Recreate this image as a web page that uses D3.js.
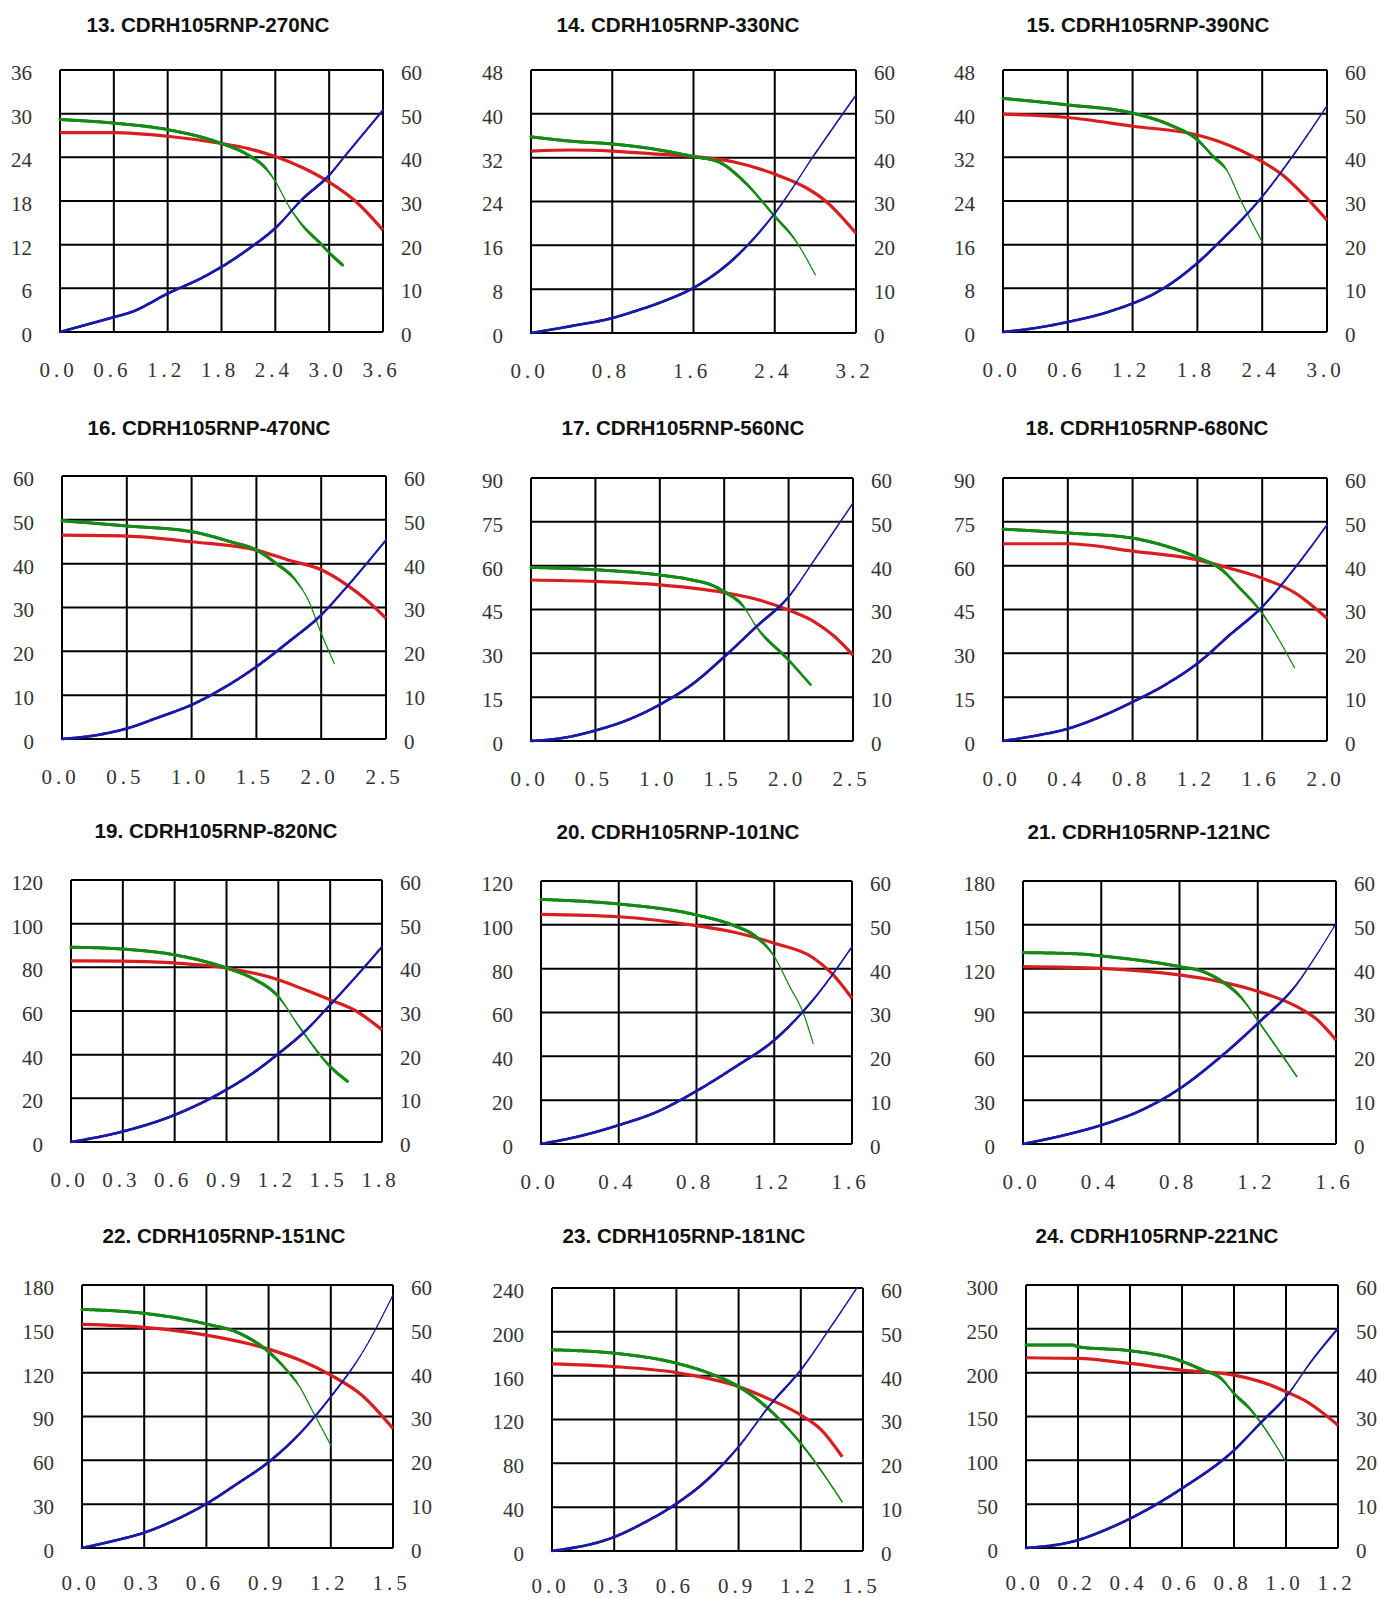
<!DOCTYPE html>
<html>
<head>
<meta charset="utf-8">
<script src="https://cdn.jsdelivr.net/npm/d3@7"></script>
<style>
  body { margin: 0; background: #fff; }
  .title { font-family: "Liberation Sans", Arial, sans-serif; font-weight: bold; font-size: 20px; fill: #111; }
  .tick text { font-family: "Liberation Serif", "Times New Roman", Tinos, "DejaVu Serif", serif; font-size: 21px; fill: #333; }
  .xaxis .tick text { letter-spacing: 4px; }
</style>
</head>
<body>
<svg id="chart" width="1381" height="1598"></svg>
<script>
// panel titles
const titles = [
  "13. CDRH105RNP-270NC", "14. CDRH105RNP-330NC", "15. CDRH105RNP-390NC",
  "16. CDRH105RNP-470NC", "17. CDRH105RNP-560NC", "18. CDRH105RNP-680NC",
  "19. CDRH105RNP-820NC", "20. CDRH105RNP-101NC", "21. CDRH105RNP-121NC",
  "22. CDRH105RNP-151NC", "23. CDRH105RNP-181NC", "24. CDRH105RNP-221NC"
];

// x axis (current) range and step of each panel
const xMax  = [3.6, 3.2, 3.0, 2.5, 2.5, 2.0, 1.8, 1.6, 1.6, 1.5, 1.5, 1.2];
const xStep = [0.6, 0.8, 0.6, 0.5, 0.5, 0.4, 0.3, 0.4, 0.4, 0.3, 0.3, 0.2];

// left axis (inductance), always 6 intervals
const leftMax = [36, 48, 48, 60, 90, 90, 120, 120, 180, 180, 240, 300];

// right axis (temperature rise) is the same everywhere
const rightTicks = [0, 10, 20, 30, 40, 50, 60];

// red curve, left axis
const redCurves = [
  [[0,27.4],[0.6,27.4],[1.2,26.9],[1.8,25.9],[2.1,25.2],[2.4,24.1],[2.7,22.6],[3.0,20.6],[3.3,17.9],[3.6,14.0]],
  [[0,33.2],[0.4,33.4],[0.8,33.2],[1.2,32.7],[1.6,32.2],[2.0,31.2],[2.4,29.0],[2.7,26.6],[2.9,24.1],[3.2,18.2]],
  [[0,39.9],[0.6,39.3],[1.2,37.7],[1.8,36.1],[2.0,34.9],[2.4,31.2],[2.6,28.6],[2.8,24.8],[3.0,20.5]],
  [[0,46.5],[0.5,46.3],[1.0,45.0],[1.5,43.1],[1.75,40.8],[2.0,38.6],[2.2,35.1],[2.35,31.7],[2.5,27.5]],
  [[0,55.1],[0.5,54.6],[1.0,53.4],[1.5,50.8],[1.75,48.5],[2.0,44.8],[2.2,40.8],[2.35,36.0],[2.5,29.4]],
  [[0,67.5],[0.4,67.5],[0.8,65.0],[1.2,62.0],[1.4,59.1],[1.6,55.7],[1.8,50.8],[2.0,42.0]],
  [[0,83.0],[0.3,82.8],[0.6,82.0],[0.9,79.7],[1.2,74.3],[1.35,69.8],[1.5,65.1],[1.65,60.0],[1.8,51.4]],
  [[0,104.8],[0.4,103.7],[0.8,99.6],[1.0,96.5],[1.2,91.6],[1.4,85.0],[1.5,77.5],[1.6,66.5]],
  [[0,121.4],[0.4,120.2],[0.8,115.7],[1.0,111.3],[1.2,104.5],[1.4,94.0],[1.5,85.5],[1.6,71.2]],
  [[0,153.0],[0.3,151.0],[0.6,145.7],[0.9,136.1],[1.05,128.6],[1.2,118.3],[1.35,104.6],[1.5,81.8]],
  [[0,170.8],[0.3,168.3],[0.6,162.8],[0.9,150.0],[1.05,138.4],[1.2,124.1],[1.3,110.4],[1.4,86.0]],
  [[0,217.0],[0.2,216.2],[0.4,210.5],[0.6,202.9],[0.8,197.2],[0.94,185.8],[1.0,178.2],[1.07,168.6],[1.2,140.1]]
];

// green curve, left axis
const greenCurves = [
  [[0,29.2],[0.6,28.7],[1.2,27.8],[1.8,25.9],[2.1,24.3],[2.3,22.4],[2.4,20.7],[2.55,17.3],[2.7,14.7],[2.9,12.2],[3.05,10.3],[3.15,9.2]],
  [[0,35.8],[0.4,35.0],[0.8,34.5],[1.2,33.6],[1.6,32.2],[1.85,31.2],[2.1,27.6],[2.4,21.3],[2.6,17.0],[2.8,10.6]],
  [[0,42.8],[0.6,41.6],[1.2,40.1],[1.55,37.9],[1.8,35.2],[1.95,32.1],[2.07,29.7],[2.2,24.2],[2.4,16.5]],
  [[0,49.8],[0.5,48.6],[1.0,47.3],[1.3,45.0],[1.5,43.1],[1.65,40.1],[1.8,36.3],[1.9,31.7],[2.0,24.1],[2.1,17.3]],
  [[0,59.4],[0.5,58.6],[1.0,56.8],[1.25,55.1],[1.4,53.4],[1.5,51.1],[1.65,46.0],[1.75,39.1],[2.0,27.7],[2.17,19.3]],
  [[0,72.5],[0.4,71.2],[0.8,69.4],[1.0,66.8],[1.2,62.8],[1.35,58.6],[1.45,53.0],[1.6,43.7],[1.8,25.0]],
  [[0,89.2],[0.25,88.6],[0.6,85.7],[0.9,79.7],[1.05,75.0],[1.2,66.6],[1.32,52.9],[1.5,34.6],[1.6,27.8]],
  [[0,111.6],[0.4,109.5],[0.8,104.5],[1.0,99.4],[1.1,95.0],[1.2,85.5],[1.28,71.8],[1.35,59.6],[1.4,45.9]],
  [[0,131.0],[0.3,130.0],[0.4,128.7],[0.8,121.4],[0.92,118.0],[1.02,111.0],[1.11,101.0],[1.21,82.6],[1.4,46.1]],
  [[0,163.3],[0.3,160.6],[0.6,153.3],[0.76,146.9],[0.9,134.3],[0.98,122.9],[1.05,110.3],[1.11,94.3],[1.2,70.4]],
  [[0,183.6],[0.3,180.5],[0.6,171.4],[0.75,162.8],[0.9,150.0],[1.05,128.7],[1.2,98.2],[1.4,44.8]],
  [[0,231.5],[0.18,231.5],[0.2,229.5],[0.4,225.0],[0.58,215.0],[0.68,203.0],[0.75,193.4],[0.8,176.2],[0.86,159.1],[1.0,98.2]]
];

// blue curve, right axis
const blueCurves = [
  [[0,0],[0.3,1.7],[0.6,3.4],[0.8,4.6],[1.2,8.8],[1.6,12.6],[1.8,14.9],[2.1,19.0],[2.4,23.8],[2.7,30.4],[3.0,35.9],[3.2,40.9],[3.6,50.8]],
  [[0,0],[0.4,1.6],[0.8,3.4],[1.0,4.8],[1.3,7.2],[1.6,10.3],[2.0,17.0],[2.4,27.3],[2.8,41.0],[3.2,54.3]],
  [[0,0],[0.3,0.9],[0.6,2.3],[1.0,4.8],[1.5,10.2],[1.8,15.8],[2.0,20.5],[2.4,31.0],[2.7,40.9],[3.0,51.8]],
  [[0,0],[0.25,0.8],[0.5,2.4],[0.75,5.0],[1.0,7.8],[1.25,11.7],[1.5,16.5],[1.75,22.2],[2.0,28.3],[2.2,34.8],[2.5,45.4]],
  [[0,0],[0.25,0.7],[0.5,2.4],[0.75,4.8],[1.0,8.3],[1.25,12.9],[1.5,19.2],[1.75,26.1],[2.0,32.9],[2.2,41.3],[2.5,54.3]],
  [[0,0],[0.2,1.2],[0.4,2.8],[0.6,5.5],[0.8,8.9],[1.0,12.8],[1.2,17.7],[1.4,24.2],[1.6,30.6],[1.8,39.4],[2.0,49.3]],
  [[0,0],[0.3,2.4],[0.6,6.2],[0.9,12.0],[1.05,15.7],[1.2,20.2],[1.35,25.2],[1.5,31.4],[1.65,37.9],[1.8,44.7]],
  [[0,0],[0.2,1.8],[0.4,4.3],[0.6,7.4],[0.8,12.1],[1.0,17.6],[1.2,23.7],[1.4,32.9],[1.6,45.0]],
  [[0,0],[0.2,1.9],[0.4,4.3],[0.6,7.6],[0.8,12.6],[1.0,19.5],[1.2,27.5],[1.4,36.5],[1.5,43.1],[1.6,50.3]],
  [[0,0],[0.15,1.6],[0.3,3.5],[0.45,6.4],[0.6,10.1],[0.75,14.7],[0.9,19.6],[1.05,26.1],[1.2,34.5],[1.35,44.4],[1.5,57.7]],
  [[0,0],[0.3,3.2],[0.45,6.6],[0.6,10.8],[0.75,16.3],[0.9,23.8],[1.05,33.2],[1.2,41.3],[1.35,51.5],[1.47,60.0]],
  [[0,0],[0.2,1.8],[0.3,4.0],[0.4,6.7],[0.6,13.6],[0.8,22.3],[0.9,28.4],[1.0,34.5],[1.1,42.8],[1.2,50.1]]
];

// plot boxes [left, top, right, bottom]
const boxes = [
  [60, 70, 383, 332], [531, 70, 856, 333], [1003, 70, 1327, 332],
  [62, 476, 386, 739], [531, 478, 853, 741], [1003, 478, 1327, 741],
  [71, 880, 382, 1142], [541, 881, 852, 1144], [1023, 881, 1336, 1144],
  [82, 1285, 393, 1548], [552, 1288, 863, 1551], [1026, 1285, 1338, 1548]
];
// title anchor [x centre, baseline]
const titlePos = [
  [208, 32], [678, 32], [1148, 32],
  [209, 435], [683, 435], [1147, 435],
  [216, 838], [678, 839], [1149, 839],
  [224, 1243], [684, 1243], [1157, 1243]
];

const svg = d3.select("#chart");

// steep parts of green/blue are drawn thin, as in the scanned chart
function widthFor(slope, wide) {
    const s = Math.abs(slope);
    if (s <= 0.9) return wide;
    if (s >= 1.6) return 1.1;
    return wide - (wide - 1.1) * (s - 0.9) / 0.7;
}

function drawTapered(g, d, color, wide) {
    const tmp = g.append("path").attr("d", d).attr("fill", "none").attr("stroke", "none");
    const node = tmp.node();
    const len = node.getTotalLength();
    const pts = [];
    for (let l = 0; l <= len; l += 1.5) pts.push(node.getPointAtLength(l));
    pts.push(node.getPointAtLength(len));
    tmp.remove();
    for (let i = 1; i < pts.length; i++) {
        const a = pts[Math.max(0, i - 3)], b = pts[Math.min(pts.length - 1, i + 2)];
        const dx = b.x - a.x;
        const slope = dx === 0 ? 99 : (b.y - a.y) / dx;
        g.append("line")
            .attr("x1", pts[i - 1].x).attr("y1", pts[i - 1].y)
            .attr("x2", pts[i].x).attr("y2", pts[i].y)
            .attr("stroke", color)
            .attr("stroke-width", widthFor(slope, wide))
            .attr("stroke-linecap", "round");
    }
}

titles.forEach((title, i) => {
    const [L, T, R, B] = boxes[i];
    const g = svg.append("g");

    const nx = Math.round(xMax[i] / xStep[i]);
    const xTicks = d3.range(nx + 1).map(k => +(k * xStep[i]).toFixed(1));
    const leftTicks = d3.range(7).map(k => k * leftMax[i] / 6);

    const x = d3.scaleLinear().domain([0, xMax[i]]).range([L, R]);
    const yL = d3.scaleLinear().domain([0, leftMax[i]]).range([B, T]);
    const yR = d3.scaleLinear().domain([0, 60]).range([B, T]);

    // grid
    g.selectAll(".vgrid").data(xTicks).enter().append("line")
        .attr("x1", d => x(d)).attr("x2", d => x(d))
        .attr("y1", T).attr("y2", B)
        .attr("stroke", "#000").attr("stroke-width", 2);
    g.selectAll(".hgrid").data(leftTicks).enter().append("line")
        .attr("x1", L).attr("x2", R)
        .attr("y1", d => yL(d)).attr("y2", d => yL(d))
        .attr("stroke", "#000").attr("stroke-width", 2);

    // axes labels
    g.append("g")
        .attr("transform", "translate(" + L + ",0)")
        .call(d3.axisLeft(yL).tickValues(leftTicks).tickSize(0).tickPadding(28).tickFormat(d3.format("d")))
        .call(a => a.select(".domain").remove())
        .call(a => a.attr("font-family", null))
        .selectAll("text").attr("dy", "0.45em");
    g.append("g")
        .attr("transform", "translate(" + R + ",0)")
        .call(d3.axisRight(yR).tickValues(rightTicks).tickSize(0).tickPadding(18).tickFormat(d3.format("d")))
        .call(a => a.select(".domain").remove())
        .call(a => a.attr("font-family", null))
        .selectAll("text").attr("dy", "0.45em");
    // bottom row sits at the page edge, so lift its labels a little
    const pad = B > 1500 ? 27 : 30;
    g.append("g")
        .attr("class", "xaxis")
        .attr("transform", "translate(0," + B + ")")
        .call(d3.axisBottom(x).tickValues(xTicks).tickSize(0).tickPadding(pad).tickFormat(d3.format(".1f")))
        .call(a => a.select(".domain").remove())
        .call(a => a.attr("font-family", null))
        .selectAll("text").attr("dx", -2);

    // curves
    const lineL = d3.line().x(d => x(d[0])).y(d => yL(d[1])).curve(d3.curveMonotoneX);
    const lineR = d3.line().x(d => x(d[0])).y(d => yR(d[1])).curve(d3.curveMonotoneX);

    g.append("path")
        .attr("d", lineL(redCurves[i]))
        .attr("fill", "none")
        .attr("stroke", "#d81e1e")
        .attr("stroke-width", 3.2)
        .attr("stroke-linejoin", "round");
    drawTapered(g, lineL(greenCurves[i]), "#168a16", 3);
    drawTapered(g, lineR(blueCurves[i]), "#1a1aa6", 2.6);

    // title
    g.append("text")
        .attr("class", "title")
        .attr("x", titlePos[i][0])
        .attr("y", titlePos[i][1])
        .attr("text-anchor", "middle")
        .attr("textLength", 243)
        .attr("lengthAdjust", "spacingAndGlyphs")
        .text(title);
});
</script>
</body>
</html>
